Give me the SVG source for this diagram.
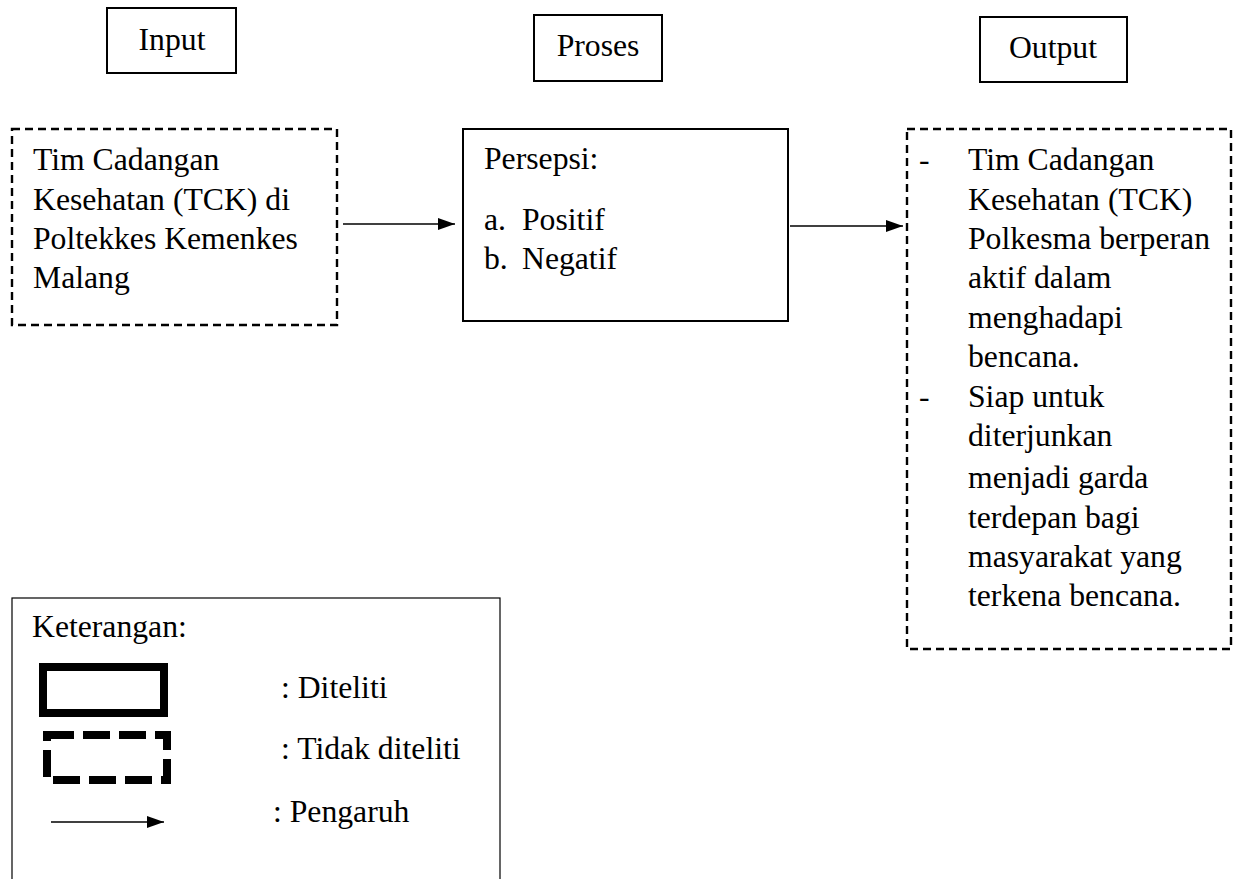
<svg xmlns="http://www.w3.org/2000/svg" width="1240" height="879" viewBox="0 0 1240 879">
<defs>
<marker id="arr" markerUnits="userSpaceOnUse" markerWidth="17" markerHeight="14" refX="17" refY="7" orient="auto">
<path d="M0,1 L17,7 L0,13 Z" fill="#000"/>
</marker>
<style>
.t text{font-size:31.7px;fill:#000}
.solid{fill:#fff;stroke:#000;stroke-width:2}
.dash{fill:#fff;stroke:#000;stroke-width:2.4;stroke-dasharray:8 5}
.conn{stroke:#000;stroke-width:1.3;fill:none}
</style>
</defs>
<rect width="1240" height="879" fill="#fff"/>
<g class="t" font-family="Liberation Serif, DejaVu Serif, serif">
<g id="hdr-input"><rect class="solid" x="107" y="8" width="129" height="65"/><text x="172" y="50" text-anchor="middle">Input</text></g>
<g id="hdr-proses"><rect class="solid" x="534" y="15" width="128" height="66"/><text x="598" y="56" text-anchor="middle">Proses</text></g>
<g id="hdr-output"><rect class="solid" x="980" y="17" width="147" height="65"/><text x="1053" y="58" text-anchor="middle">Output</text></g>
<g id="input"><rect class="dash" x="12" y="129" width="325" height="196"/>
<text x="33" y="170">Tim Cadangan</text>
<text x="33" y="210">Kesehatan (TCK) di</text>
<text x="33" y="249">Poltekkes Kemenkes</text>
<text x="33" y="288">Malang</text></g>
<g id="proses"><rect class="solid" x="463" y="129" width="325" height="192"/>
<text x="484" y="169">Persepsi:</text>
<text x="484" y="230">a.</text><text x="522" y="230">Positif</text>
<text x="484" y="269">b.</text><text x="522" y="269">Negatif</text></g>
<g id="output"><rect class="dash" x="907" y="129" width="324" height="520"/>
<text x="919" y="170">-</text>
<text x="968" y="170">Tim Cadangan</text>
<text x="968" y="210">Kesehatan (TCK)</text>
<text x="968" y="249">Polkesma berperan</text>
<text x="968" y="288">aktif dalam</text>
<text x="968" y="328">menghadapi</text>
<text x="968" y="367">bencana.</text>
<text x="919" y="407">-</text>
<text x="968" y="407">Siap untuk</text>
<text x="968" y="446">diterjunkan</text>
<text x="968" y="488">menjadi garda</text>
<text x="968" y="528">terdepan bagi</text>
<text x="968" y="567">masyarakat yang</text>
<text x="968" y="606">terkena bencana.</text></g>
<g id="connectors">
<line class="conn" x1="343" y1="224" x2="455" y2="224" marker-end="url(#arr)"/>
<line class="conn" x1="790" y1="226" x2="903" y2="226" marker-end="url(#arr)"/>
</g>
<g id="legend"><rect x="12" y="598" width="488" height="300" fill="#fff" stroke="#000" stroke-width="1.2"/>
<text x="32" y="637">Keterangan:</text>
<rect x="43" y="667" width="121" height="46" fill="none" stroke="#000" stroke-width="8"/>
<rect x="47" y="735" width="120" height="45" fill="none" stroke="#000" stroke-width="8" stroke-dasharray="27 9"/>
<line class="conn" x1="51" y1="822" x2="164" y2="822" marker-end="url(#arr)"/>
<text x="281" y="698">: Diteliti</text>
<text x="281" y="759">: Tidak diteliti</text>
<text x="273" y="822">: Pengaruh</text></g>
</g>
</svg>
